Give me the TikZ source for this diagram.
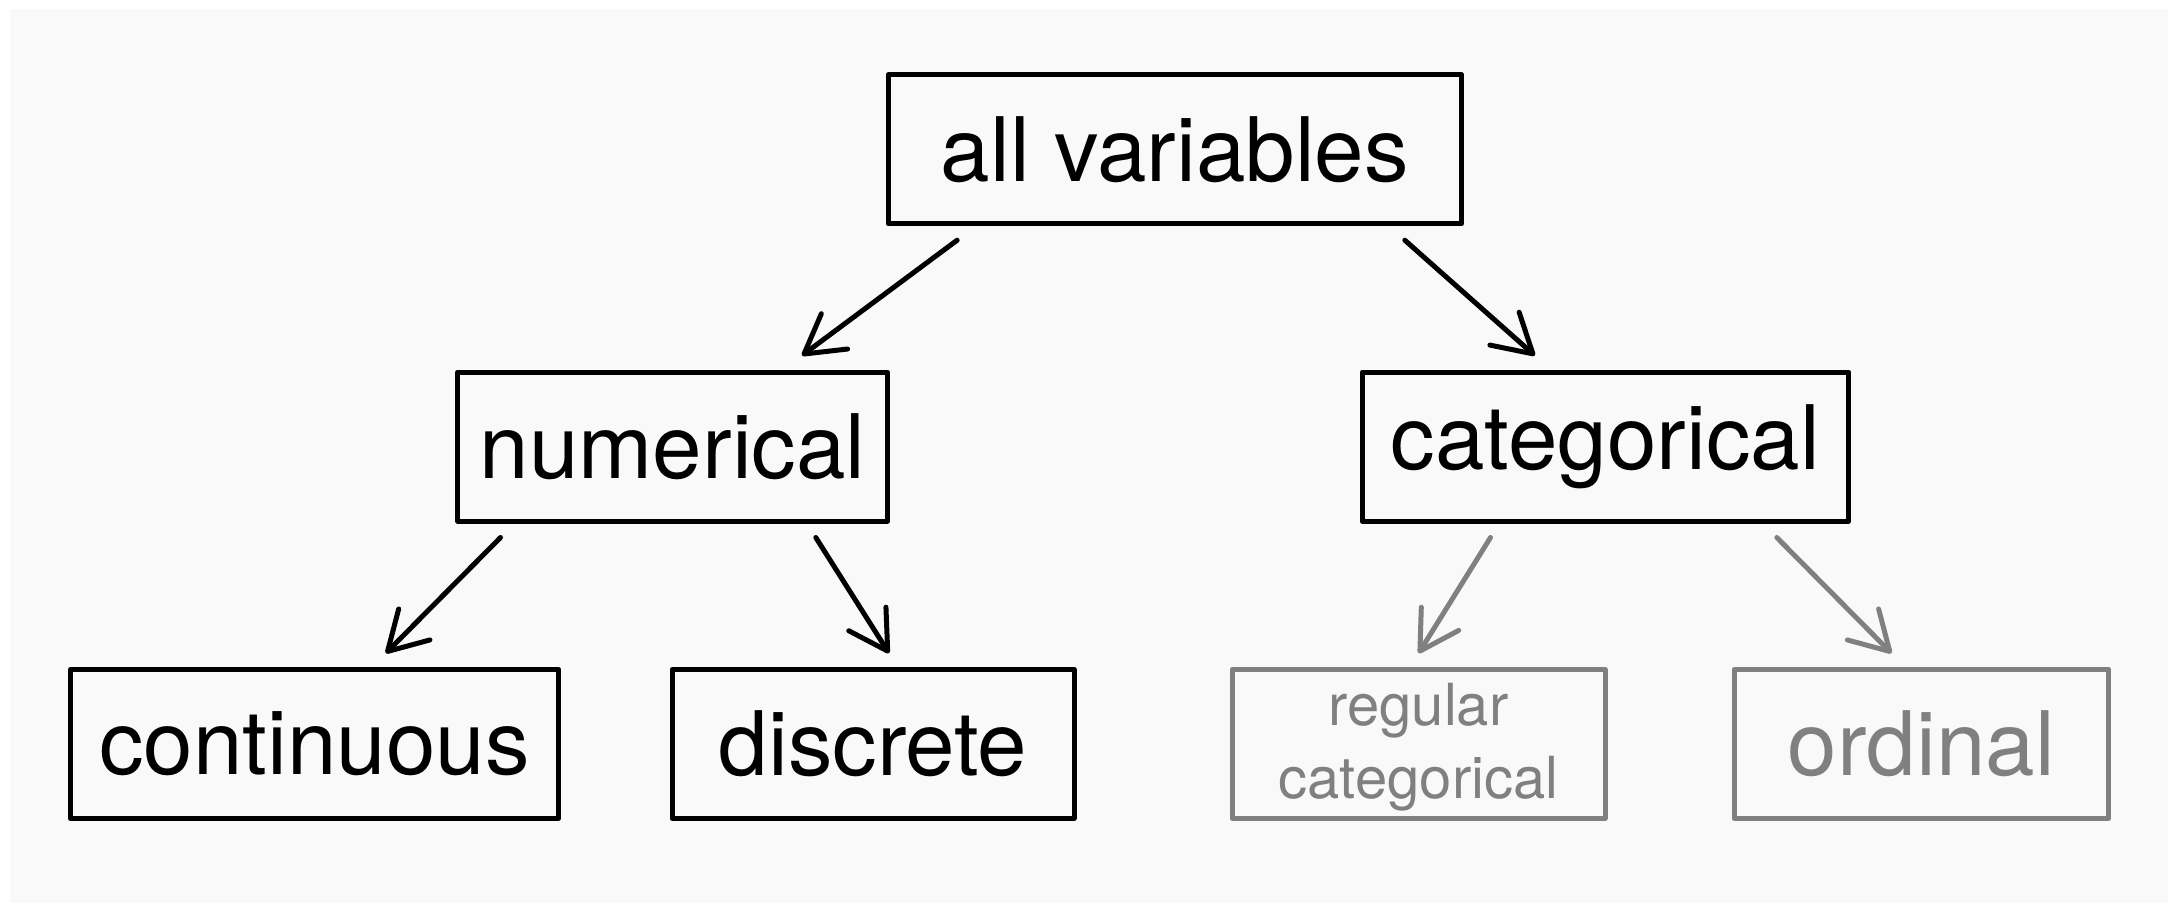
\documentclass[tikz,border=0pt]{standalone}
\usepackage{fontspec}
\setmainfont{TeX Gyre Heros}
\usetikzlibrary{arrows.meta,calc}
\definecolor{bgc}{HTML}{F9F9F9}
\definecolor{grc}{HTML}{808080}
\tikzset{
  box/.style={draw, line width=5pt, line join=round, inner sep=0pt, minimum height=149pt, font=\fontsize{89}{100}\selectfont},
  graybox/.style={box, draw=grc, text=grc},
  arr/.style={line width=5pt, line cap=round, -{Straight Barb[length=38pt,width=44pt,line cap=round,line join=round]}},
  grayarr/.style={arr, draw=grc},
}
\begin{document}
\begin{tikzpicture}[x=1pt,y=-1pt]
\useasboundingbox (0,0) rectangle (2168,903);
\fill[bgc] (10,9) rectangle (2168,903);
\node[box, minimum width=573.5pt] (all) at (1174.8,149.4) {all variables};
\node[box, minimum width=430pt] (num) at (672.7,446.5) {numerical};
\node[box, minimum width=486.7pt] (cat) at (1605.4,446.5) {categorical};
\node[box, minimum width=488pt] (cont) at (314.6,743.8) {continuous};
\node[box, minimum width=402pt] (disc) at (873,743.8) {discrete};
\node[graybox, minimum width=373pt, align=center, font=\fontsize{58}{73}\selectfont] (reg) at (1418.5,743.8) {};
\node[text=grc, align=center, inner sep=0pt, font=\fontsize{58}{73}\selectfont] (regt) at ([yshift=-3pt]reg.center) {regular\\categorical};
\node[graybox, minimum width=374.6pt] (ord) at (1921.3,743.8) {ordinal};
\draw[arr] ($(all.south west)+(71.6,13.8)$) -- ($(num.north)+(129.3,-14)$);
\draw[arr] ($(all.south)+(230,13.8)$) -- ($(cat.north)+(-70.6,-14)$);
\draw[arr] ($(num.south)+(-172.2,14)$) -- ($(cont.north)+(71.2,-13.6)$);
\draw[arr] ($(num.south)+(143.1,14)$) -- ($(disc.north)+(16,-13.6)$);
\draw[grayarr] ($(cat.south)+(-114.9,14)$) -- ($(reg.north)+(0.1,-13.6)$);
\draw[grayarr] ($(cat.south)+(171.4,14)$) -- ($(ord.north)+(-29.8,-13.6)$);
\end{tikzpicture}
\end{document}
